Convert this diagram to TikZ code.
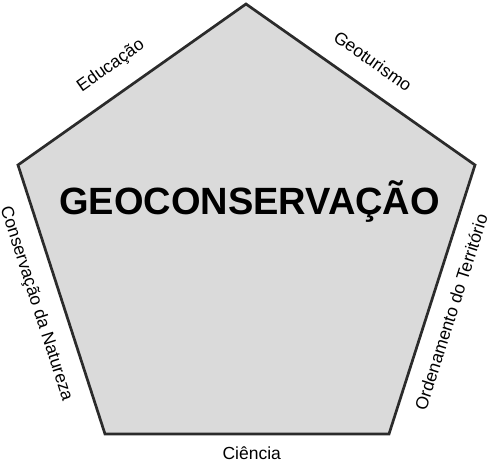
\documentclass[tikz,border=0pt]{standalone}
\usepackage{fontspec}
\setmainfont{Liberation Sans}
\definecolor{edge}{HTML}{2B2B2B}
\definecolor{face}{HTML}{DADADA}
\tikzset{
  side/.style={font=\fontsize{17.5}{20}\selectfont, inner sep=0pt, text=black},
  title/.style={font=\fontsize{38}{44}\selectfont\bfseries, inner sep=0pt, text=black}
}
\begin{document}
\begin{tikzpicture}[x=1pt,y=-1pt]
\useasboundingbox (0,0) rectangle (488,461);
\coordinate (T) at (246,4);
\coordinate (L) at (18,165);
\coordinate (R) at (475,165);
\coordinate (BL) at (105,434);
\coordinate (BR) at (389,434);
\draw[edge, line width=2.7pt, fill=face, line join=miter] (T) -- (R) -- (BR) -- (BL) -- (L) -- cycle;
\node[title] (title) at (249.5,201.5) {GEOCONSERVAÇÃO};
\node[side, rotate=35.2] (edu) at (111,66) {Educação};
\node[side, rotate=-35.1] (geo) at (373,61) {Geoturismo};
\node[side, rotate=-72.1] (cons) at (36,304) {Conservação da Natureza};
\node[side, rotate=72.3] (ord) at (451,312) {Ordenamento do Território};
\node[side, anchor=base] (cie) at (251.7,459) {Ciência};
\end{tikzpicture}
\end{document}
